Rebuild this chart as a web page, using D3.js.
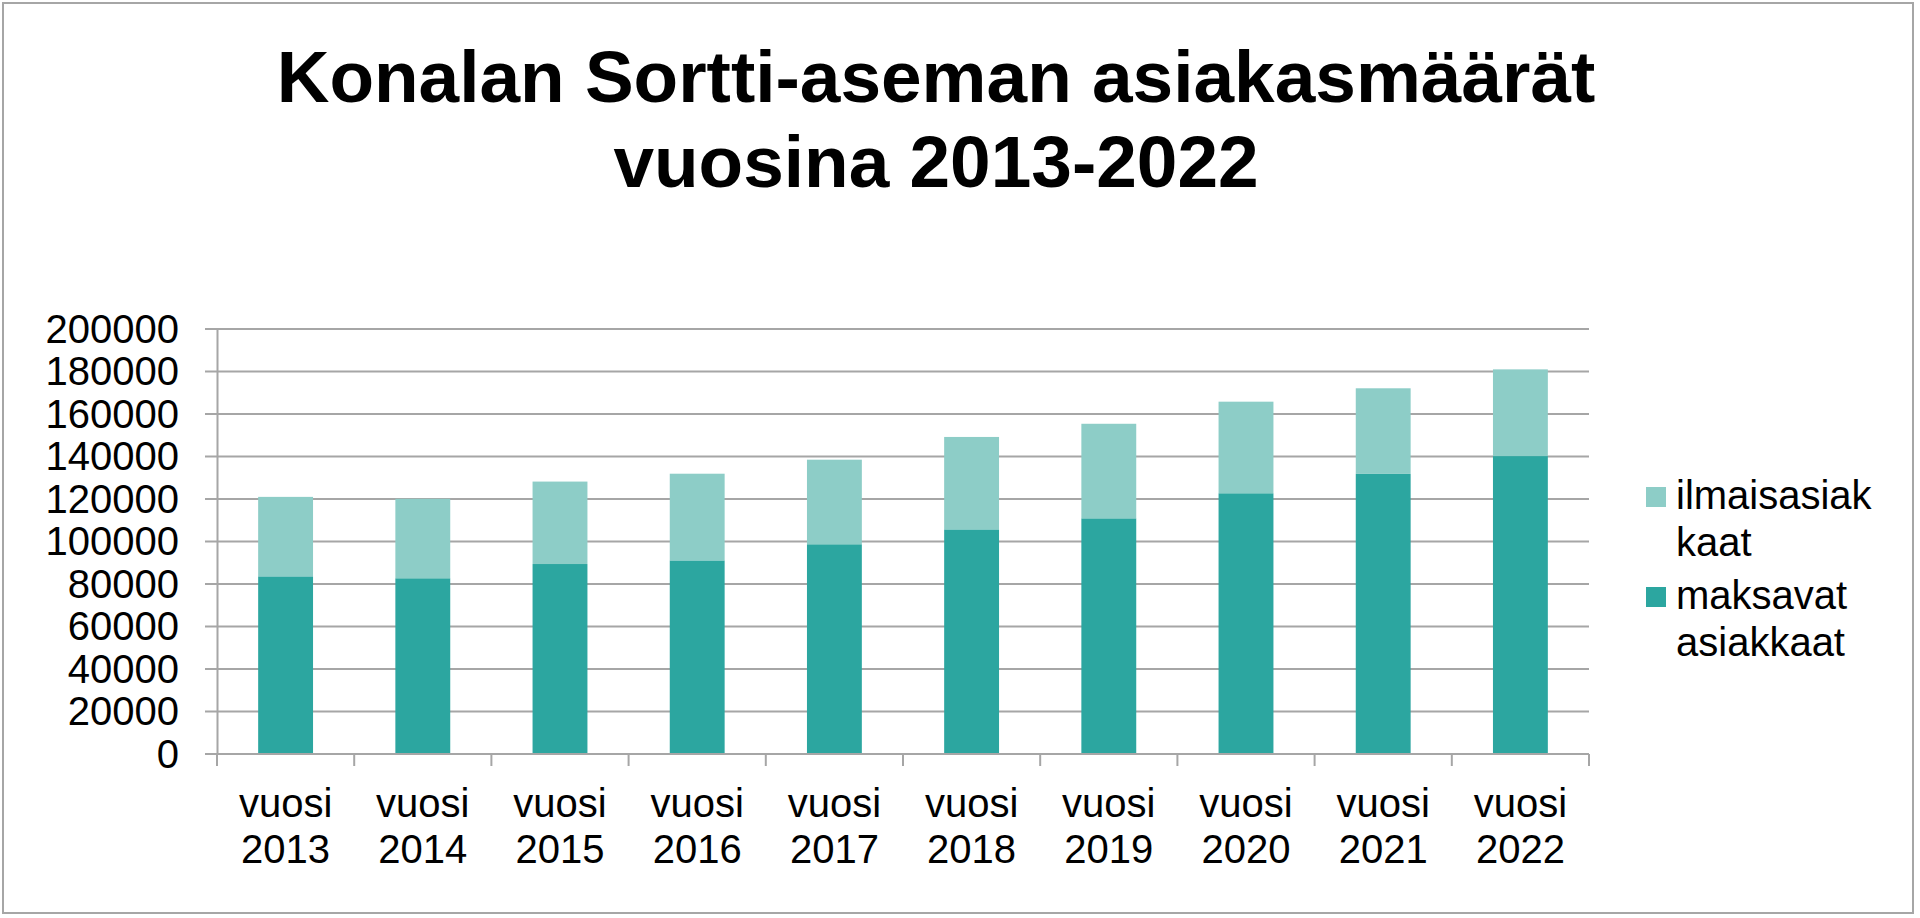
<!DOCTYPE html>
<html>
<head>
<meta charset="utf-8">
<script src="https://cdn.jsdelivr.net/npm/d3@7"></script>
<style>
  html, body { margin: 0; padding: 0; background: #fff; }
  svg { display: block; font-family: "Liberation Sans", Arial, sans-serif; }
</style>
</head>
<body>
<svg></svg>
<script>
// constants
const WIDTH = 1920;
const HEIGHT = 918;

const PLOT_LEFT = 217;
const PLOT_RIGHT = 1589;
const PLOT_TOP = 329;
const PLOT_BOTTOM = 754;

// data
const years = ['2013', '2014', '2015', '2016', '2017', '2018', '2019', '2020', '2021', '2022'];
const maksavat = [83600, 82700, 89400, 91100, 98700, 105700, 110900, 122700, 131800, 140200];
const ilmaiset = [37400, 37400, 38800, 40800, 39800, 43500, 44500, 43100, 40300, 40800];
const yTicks = [0, 20000, 40000, 60000, 80000, 100000, 120000, 140000, 160000, 180000, 200000];
const seriesKeys = ['maksavat', 'ilmaiset'];
const seriesNames = { ilmaiset: ['ilmaisasiak', 'kaat'], maksavat: ['maksavat', 'asiakkaat'] };
const colors = { maksavat: '#2ca6a0', ilmaiset: '#8dcdc7' };

const svg = d3.select('svg')
    .attr('width', WIDTH)
    .attr('height', HEIGHT);

// frame
svg.append('rect')
    .attr('x', 3).attr('y', 3)
    .attr('width', 1910).attr('height', 910)
    .attr('fill', 'white')
    .attr('stroke', '#a6a6a6')
    .attr('stroke-width', 2);

// title
const title = svg.append('text')
    .attr('text-anchor', 'middle')
    .attr('font-size', 73)
    .attr('font-weight', 'bold')
    .attr('fill', '#000');
title.append('tspan').attr('x', 936).attr('y', 102).text('Konalan Sortti-aseman asiakasmäärät');
title.append('tspan').attr('x', 936).attr('y', 187).text('vuosina 2013-2022');

// scales
const x = d3.scaleBand()
    .domain(years)
    .range([PLOT_LEFT, PLOT_RIGHT])
    .paddingInner(0.6)
    .paddingOuter(0.3);

const y = d3.scaleLinear()
    .domain([0, 200000])
    .range([PLOT_BOTTOM, PLOT_TOP]);

// gridlines
svg.append('g')
    .selectAll('line')
    .data(yTicks).join('line')
    .attr('x1', PLOT_LEFT - 12)
    .attr('x2', PLOT_RIGHT)
    .attr('y1', d => y(d))
    .attr('y2', d => y(d))
    .attr('stroke', '#a6a6a6')
    .attr('stroke-width', 2);

// y axis
const yAxis = svg.append('g')
    .attr('transform', `translate(${PLOT_LEFT}, 0)`)
    .call(d3.axisLeft(y).tickValues(yTicks).tickSize(0).tickPadding(38).tickFormat(d3.format('d')));
yAxis.select('.domain').attr('stroke', '#a6a6a6').attr('stroke-width', 2);
yAxis.selectAll('text')
    .attr('font-size', 40)
    .attr('font-family', '"Liberation Sans", Arial, sans-serif')
    .attr('fill', '#000')
    .attr('dy', 13);

// stacked bars
const table = years.map((yr, i) => ({ year: yr, maksavat: maksavat[i], ilmaiset: ilmaiset[i] }));
const stacked = d3.stack().keys(seriesKeys)(table);

svg.append('g')
    .selectAll('g')
    .data(stacked).join('g')
    .attr('fill', d => colors[d.key])
    .selectAll('rect')
    .data(d => d).join('rect')
    .attr('x', d => x(d.data.year))
    .attr('width', x.bandwidth())
    .attr('y', d => y(d[1]))
    .attr('height', d => y(d[0]) - y(d[1]));

// x axis
const xAxis = svg.append('g')
    .attr('transform', `translate(0, ${PLOT_BOTTOM})`);
xAxis.append('line')
    .attr('x1', PLOT_LEFT).attr('x2', PLOT_RIGHT)
    .attr('stroke', '#a6a6a6').attr('stroke-width', 2);
const bounds = years.map(d => x(d) - x.step() * x.paddingOuter());
bounds.push(PLOT_RIGHT);
xAxis.selectAll('.tick-mark')
    .data(bounds).join('line')
    .attr('class', 'tick-mark')
    .attr('x1', d => d).attr('x2', d => d)
    .attr('y1', 0).attr('y2', 12)
    .attr('stroke', '#a6a6a6').attr('stroke-width', 2);

const xLabels = xAxis.selectAll('.xlabel')
    .data(years).join('text')
    .attr('class', 'xlabel')
    .attr('text-anchor', 'middle')
    .attr('font-size', 40)
    .attr('fill', '#000');
xLabels.append('tspan')
    .attr('x', d => x(d) + x.bandwidth() / 2)
    .attr('y', 63)
    .text('vuosi');
xLabels.append('tspan')
    .attr('x', d => x(d) + x.bandwidth() / 2)
    .attr('y', 109)
    .text(d => d);

// legend
const legendItems = [
    { key: 'ilmaiset', top: 487 },
    { key: 'maksavat', top: 587 }
];
const legend = svg.append('g').attr('id', 'legend');
const item = legend.selectAll('g')
    .data(legendItems).join('g')
    .attr('transform', d => `translate(1646, ${d.top})`);
item.append('rect')
    .attr('width', 20)
    .attr('height', 20)
    .attr('fill', d => colors[d.key]);
item.append('text')
    .attr('font-size', 40)
    .attr('fill', '#000')
    .selectAll('tspan')
    .data(d => seriesNames[d.key]).join('tspan')
    .attr('x', 30)
    .attr('y', (d, i) => 22 + i * 46.5)
    .text(d => d);
</script>
</body>
</html>
